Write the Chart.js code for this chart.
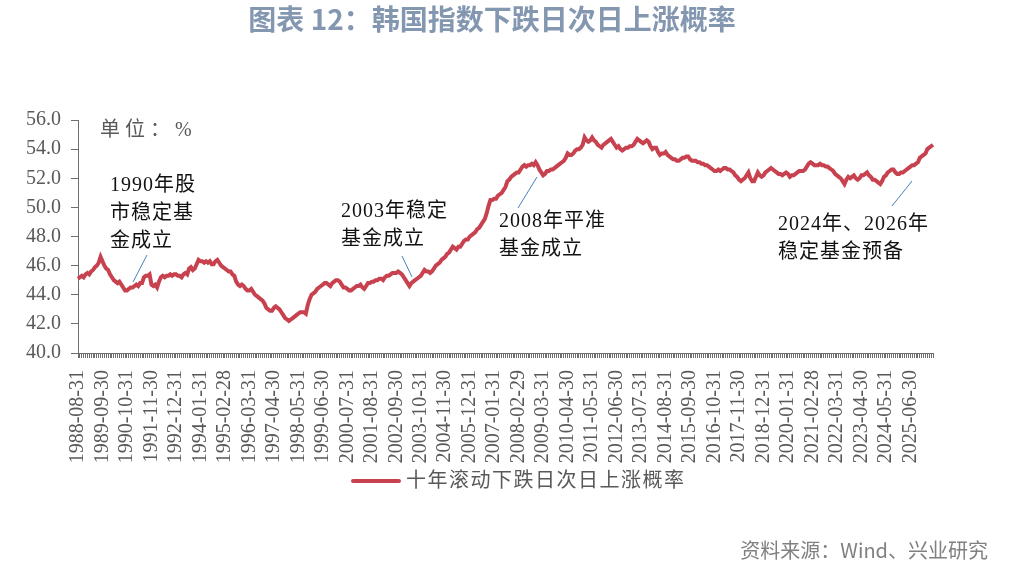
<!DOCTYPE html>
<html>
<head>
<meta charset="utf-8">
<script src="https://cdn.jsdelivr.net/npm/chart.js@4/dist/chart.umd.min.js"></script>
<style>
  body { margin: 0; background: #fff; }
  #box { width: 1009px; height: 579px; position: relative; }
</style>
</head>
<body>
<div id="box"><canvas id="grafico"></canvas></div>
<script>
// 数据：1988-08 起的月度序列
const startYear = 1988;
const startMonth = 8;
const seriesName = '十年滚动下跌日次日上涨概率';
const rate = [
  45.1, 45.2, 45.3, 45.2, 45.4, 45.5, 45.4, 45.6, 45.7, 45.9, 46.0, 46.2,
  46.6, 46.3, 46.0, 45.8, 45.7, 45.4, 45.2, 45.0, 44.9, 44.8, 44.9, 44.7,
  44.5, 44.3, 44.3, 44.4, 44.5, 44.5, 44.6, 44.7, 44.6, 44.8, 44.8, 45.2,
  45.3, 45.3, 45.4, 44.7, 44.6, 44.7, 44.5, 44.9, 45.2, 45.3, 45.2, 45.3,
  45.3, 45.4, 45.3, 45.4, 45.4, 45.3, 45.3, 45.2, 45.4, 45.5, 45.4, 45.8,
  45.9, 45.7, 45.8, 46.1, 46.4, 46.3, 46.3, 46.2, 46.3, 46.2, 46.3, 46.1,
  46.1, 46.3, 46.4, 46.2, 46.0, 45.9, 45.8, 45.7, 45.6, 45.6, 45.4, 45.3,
  44.9, 44.7, 44.6, 44.7, 44.6, 44.4, 44.3, 44.3, 44.4, 44.2, 44.0, 43.9,
  43.8, 43.7, 43.6, 43.4, 43.1, 43.0, 42.9, 42.9, 43.1, 43.2, 43.1, 43.0,
  42.8, 42.6, 42.4, 42.3, 42.2, 42.3, 42.4, 42.5, 42.6, 42.7, 42.8, 42.8,
  42.8, 42.7, 43.3, 43.7, 44.0, 44.1, 44.2, 44.4, 44.5, 44.6, 44.7, 44.8,
  44.8, 44.7, 44.6, 44.8, 44.9, 45.0, 45.0, 44.9, 44.7, 44.5, 44.5, 44.4,
  44.3, 44.3, 44.4, 44.5, 44.6, 44.6, 44.7, 44.5, 44.4, 44.6, 44.8, 44.8,
  44.9, 44.9, 45.0, 45.0, 45.1, 45.1, 45.0, 45.2, 45.3, 45.3, 45.4, 45.5,
  45.5, 45.5, 45.6, 45.5, 45.4, 45.2, 45.0, 44.8, 44.6, 44.8, 44.9, 45.0,
  45.1, 45.2, 45.3, 45.5, 45.7, 45.6, 45.6, 45.5, 45.6, 45.8, 46.0, 46.1,
  46.2, 46.4, 46.5, 46.6, 46.8, 46.9, 47.1, 47.3, 47.2, 47.1, 47.3, 47.3,
  47.5, 47.7, 47.8, 47.8, 48.0, 48.1, 48.2, 48.3, 48.5, 48.6, 48.8, 49.0,
  49.2, 49.6, 50.1, 50.5, 50.5, 50.6, 50.6, 50.8, 50.9, 51.0, 51.2, 51.4,
  51.8, 51.9, 52.1, 52.2, 52.3, 52.4, 52.4, 52.6, 52.8, 52.9, 52.8, 52.9,
  52.9, 53.0, 52.9, 53.1, 52.9, 52.6, 52.4, 52.2, 52.3, 52.5, 52.5, 52.6,
  52.6, 52.7, 52.8, 52.9, 53.0, 53.1, 53.2, 53.4, 53.7, 53.6, 53.6, 53.7,
  53.9, 54.0, 54.0, 54.1, 54.3, 54.8, 54.6, 54.5, 54.6, 54.8, 54.6, 54.5,
  54.3, 54.2, 54.1, 54.3, 54.4, 54.5, 54.6, 54.7, 54.5, 54.3, 54.1, 54.2,
  54.0, 53.9, 54.0, 54.1, 54.1, 54.2, 54.2, 54.3, 54.5, 54.7, 54.6, 54.5,
  54.4, 54.5, 54.6, 54.5, 54.2, 54.0, 54.1, 54.1, 53.8, 53.6, 53.7, 53.7,
  53.8, 53.6, 53.5, 53.4, 53.3, 53.3, 53.2, 53.2, 53.3, 53.4, 53.4, 53.5,
  53.5, 53.3, 53.2, 53.2, 53.2, 53.1, 53.1, 53.0, 53.0, 52.9, 52.9, 52.8,
  52.7, 52.6, 52.5, 52.5, 52.6, 52.5, 52.6, 52.7, 52.7, 52.6, 52.6, 52.5,
  52.4, 52.2, 52.1, 51.9, 51.8, 51.9, 52.0, 52.2, 52.4, 52.0, 51.8, 51.8,
  52.1, 52.4, 52.2, 52.1, 52.2, 52.4, 52.5, 52.6, 52.7, 52.6, 52.5, 52.4,
  52.3, 52.3, 52.2, 52.3, 52.4, 52.3, 52.1, 52.2, 52.2, 52.3, 52.4, 52.5,
  52.5, 52.5, 52.6, 52.8, 53.0, 53.1, 53.0, 52.9, 52.9, 52.9, 53.0, 52.9,
  52.9, 52.8, 52.8, 52.7, 52.6, 52.5, 52.3, 52.2, 52.1, 52.0, 51.8, 51.6,
  51.9, 52.1, 52.0, 52.1, 52.2, 52.0, 51.9, 52.0, 52.2, 52.2, 52.3, 52.4,
  52.2, 52.1, 51.9, 51.9, 51.8, 51.7, 51.6, 51.8, 52.1, 52.2, 52.4, 52.5,
  52.6, 52.6, 52.4, 52.3, 52.3, 52.4, 52.4, 52.5, 52.6, 52.7, 52.8, 52.9,
  52.9, 53.0, 53.1, 53.4, 53.5, 53.6, 53.7, 54.0, 54.1, 54.2, 54.3
];
const yMin = 40, yMax = 56, yStep = 2;
const labelEvery = 13;

// 月末日期作为类别
function monthEnd(i) {
  const m0 = startMonth - 1 + i;
  const y = startYear + Math.floor(m0 / 12);
  const m = m0 % 12 + 1;
  const d = new Date(y, m, 0).getDate();
  return y + '-' + String(m).padStart(2, '0') + '-' + String(d).padStart(2, '0');
}
const dates = rate.map((v, i) => monthEnd(i));

const red = '#c8414f';
const axisColor = '#6e6e6e';
const serif = "'Liberation Serif', 'Noto Sans CJK SC', serif";
const cjk = "'Noto Sans CJK SC', sans-serif";

// 注释文字
const notes = [
  { lines: ['1990年股', '市稳定基', '金成立'], x: 110, y: 186, line: [147, 255, 133, 282] },
  { lines: ['2003年稳定', '基金成立'], x: 341, y: 212, line: [402, 256, 412, 277] },
  { lines: ['2008年平准', '基金成立'], x: 499, y: 222, line: [537, 177, 518, 208] },
  { lines: ['2024年、2026年', '稳定基金预备'], x: 778, y: 225, line: [912, 181, 892, 206] }
];

const extras = {
  id: 'extras',
  afterDraw(chart) {
    const c = chart.ctx;
    c.save();
    // 标题
    c.fillStyle = '#8497b0';
    c.font = "bold 28px " + cjk;
    c.textAlign = 'center';
    c.textBaseline = 'middle';
    c.fillText('图表 12：韩国指数下跌日次日上涨概率', 492, 19);

    // 单位
    c.fillStyle = '#595959';
    c.font = '20px ' + serif;
    c.textAlign = 'left';
    c.letterSpacing = '5px';
    c.fillText('单位：%', 100, 131);

    // 注释
    c.fillStyle = '#111';
    c.letterSpacing = '1px';
    notes.forEach(n => {
      n.lines.forEach((t, k) => c.fillText(t, n.x, n.y + k * 28));
      c.strokeStyle = '#4a7ebb';
      c.lineWidth = 1;
      c.beginPath();
      c.moveTo(n.line[0], n.line[1]);
      c.lineTo(n.line[2], n.line[3]);
      c.stroke();
    });

    // 图例
    c.strokeStyle = red;
    c.lineWidth = 4;
    c.lineCap = 'round';
    c.beginPath();
    c.moveTo(353, 481);
    c.lineTo(399, 481);
    c.stroke();
    c.fillStyle = '#595959';
    c.letterSpacing = '1.5px';
    c.fillText(seriesName, 406, 482);

    // 来源
    c.letterSpacing = '0px';
    c.fillStyle = '#808080';
    c.font = '20px ' + cjk;
    c.textAlign = 'right';
    c.fillText('资料来源：Wind、兴业研究', 988, 550);
    c.restore();
  }
};

new Chart(document.getElementById('grafico'), {
  type: 'line',
  data: {
    labels: dates,
    datasets: [{
      label: seriesName,
      data: rate,
      borderColor: red,
      borderWidth: 4,
      pointRadius: 0,
      tension: 0,
      fill: false
    }]
  },
  options: {
    responsive: true,
    maintainAspectRatio: false,
    animation: false,
    layout: { padding: { top: 120, left: 0, right: 76, bottom: 106 } },
    plugins: {
      legend: { display: false },
      title: { display: false },
      tooltip: { enabled: false }
    },
    scales: {
      x: {
        grid: { drawOnChartArea: false, tickLength: 5, color: axisColor },
        border: { color: axisColor },
        ticks: {
          autoSkip: false,
          minRotation: 90,
          maxRotation: 90,
          padding: 12,
          color: '#595959',
          font: { family: serif, size: 20 },
          callback(v, i) { return i % labelEvery === 0 ? dates[i] : ''; }
        },
        afterFit(s) { s.height = 120; }
      },
      y: {
        min: yMin,
        max: yMax,
        grid: { drawOnChartArea: false, tickLength: 7, color: axisColor },
        border: { color: axisColor },
        ticks: {
          stepSize: yStep,
          padding: 10,
          color: '#595959',
          font: { family: serif, size: 20 },
          callback(v) { return Number(v).toFixed(1); }
        },
        afterFit(s) { s.width = 78; }
      }
    }
  },
  plugins: [extras]
});
</script>
</body>
</html>
